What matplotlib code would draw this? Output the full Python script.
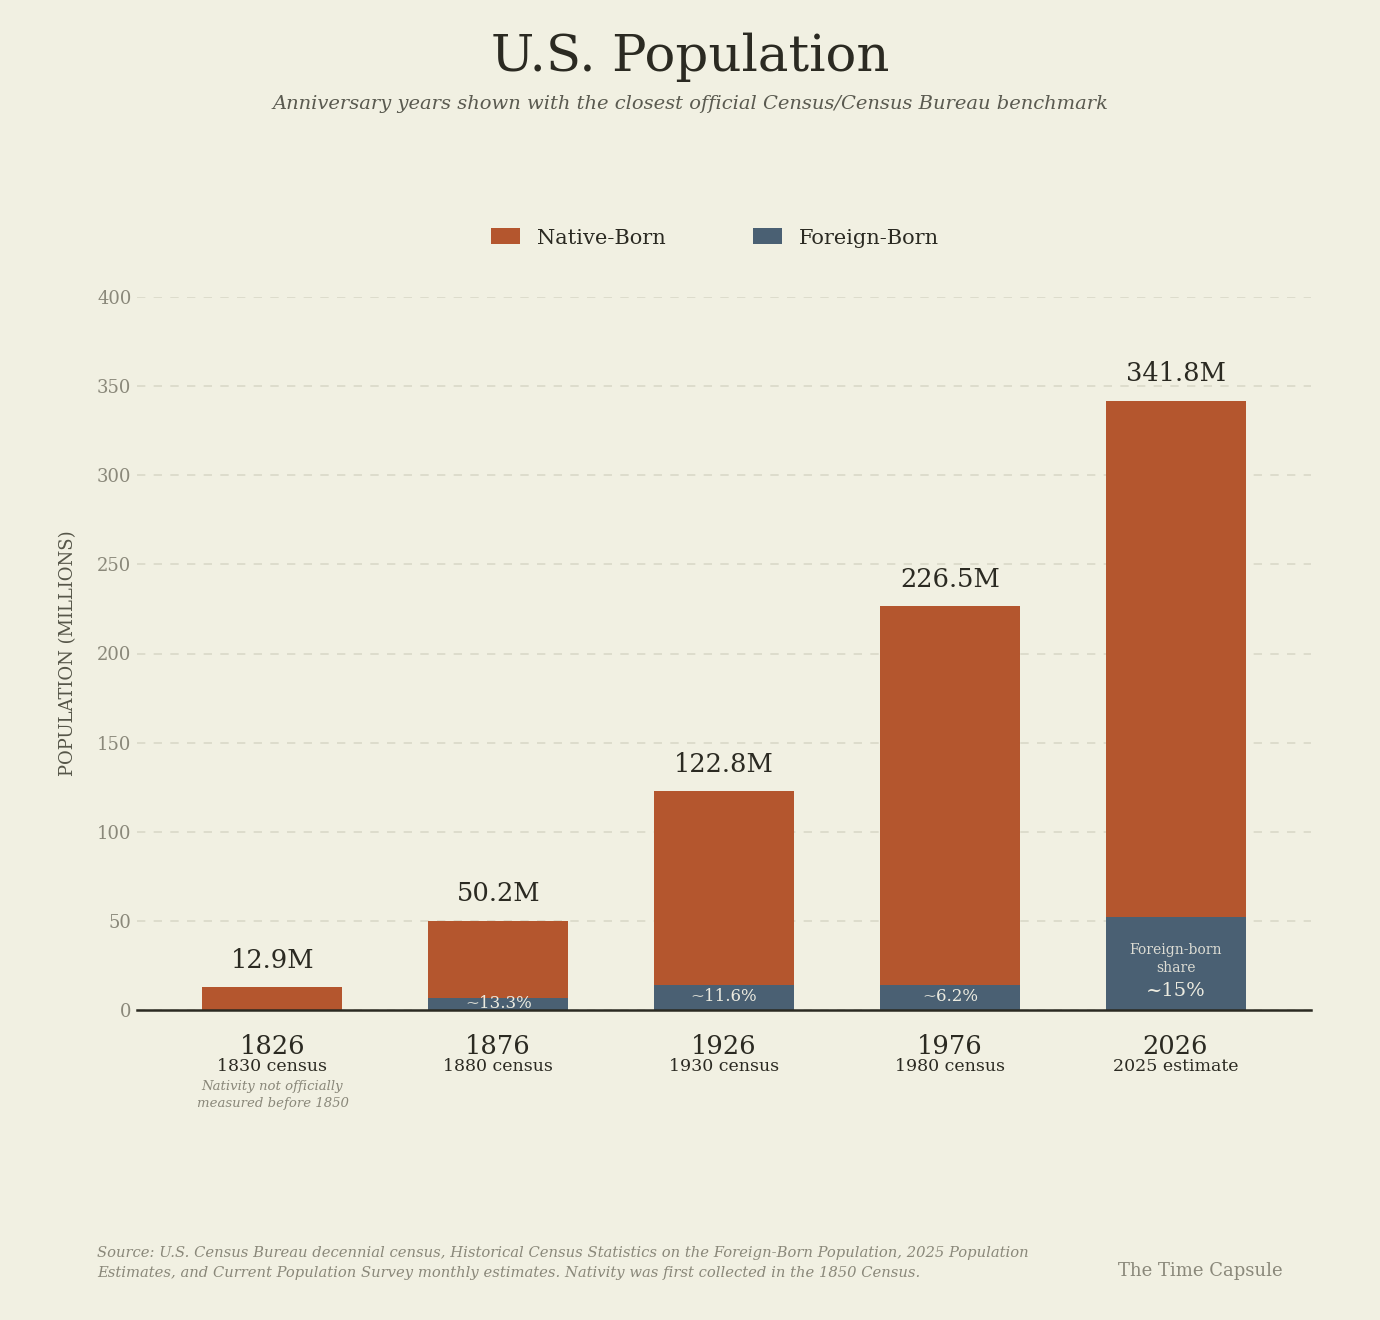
import numpy as np
import matplotlib
matplotlib.use('Agg')
import matplotlib.pyplot as plt
from matplotlib.patches import Patch

plt.rcParams['font.family'] = ['DejaVu Serif']

# data
years = ['1826', '1876', '1926', '1976', '2026']
sources = ['1830 census', '1880 census', '1930 census', '1980 census', '2025 estimate']
totals = [12.9, 50.2, 122.8, 226.5, 341.8]
foreign = [0.0, 6.7, 14.2, 14.0, 51.9]
shares = [None, '~13.3%', '~11.6%', '~6.2%', '~15%']
yticks = [0, 50, 100, 150, 200, 250, 300, 350, 400]

bg = '#F1F0E2'
c_native = '#B4562E'
c_foreign = '#4A6073'
dark = '#2B2A22'
grey = '#8A887A'

native = [t - f for t, f in zip(totals, foreign)]
x = np.arange(len(years))

fig = plt.figure(figsize=(13.8, 13.2), dpi=100, facecolor=bg)
ax = fig.add_axes([137/1380, 1 - 1010/1320, (1311-137)/1380, (1010-297)/1320])
ax.set_facecolor(bg)

w = 0.62
ax.bar(x, foreign, w, color=c_foreign, zorder=3)
ax.bar(x, native, w, bottom=foreign, color=c_native, zorder=3)

ax.set_xlim(-0.6, 4.6)
ax.set_ylim(0, 400)
ax.set_yticks(yticks)
ax.set_yticklabels([str(v) for v in yticks], color=grey, fontsize=13)
ax.tick_params(axis='y', length=0, pad=4)
ax.set_xticks([])
for s in ['top', 'right', 'left']:
    ax.spines[s].set_visible(False)
ax.spines['bottom'].set_color(dark)
ax.spines['bottom'].set_linewidth(1.8)
ax.spines['bottom'].set_zorder(4)
ax.grid(axis='y', color='#D9D8C8', linestyle=(0, (5, 5)), linewidth=1.2, zorder=0)
ax.set_ylabel('POPULATION (MILLIONS)', color='#555548', fontsize=13, labelpad=14)

# total labels
for i, t in enumerate(totals):
    ax.text(x[i], t + 8, '%.1fM' % t, ha='center', va='bottom', fontsize=18.5, color=dark)

# share labels inside the foreign-born segment
for i in range(1, 4):
    ax.text(x[i], foreign[i] / 2 + 0.5, shares[i], ha='center', va='center',
            fontsize=12, color='#ECEBE0', zorder=5)
ax.text(x[4], 28.5, 'Foreign-born\nshare', ha='center', va='center', fontsize=10,
        color='#DCDCD4', linespacing=1.35, zorder=5)
ax.text(x[4], 10.5, shares[4], ha='center', va='center', fontsize=14,
        color='#ECEBE0', zorder=5)

# year + source under each bar
for i in range(len(years)):
    ax.text(x[i], -20.5, years[i], ha='center', va='center', fontsize=18.5, color=dark)
    ax.text(x[i], -31.5, sources[i], ha='center', va='center', fontsize=12.5, color=dark)
ax.text(x[0], -47.5, 'Nativity not officially\nmeasured before 1850', ha='center', va='center',
        fontsize=9.5, style='italic', color=grey, linespacing=1.4)

fig.text(0.5, 1 - 57/1320, 'U.S. Population', ha='center', va='center', fontsize=37, color=dark)
fig.text(0.5, 1 - 104/1320, 'Anniversary years shown with the closest official Census/Census Bureau benchmark',
         ha='center', va='center', fontsize=14, style='italic', color='#5A5A50')

handles = [Patch(facecolor=c_native, label='Native-Born'),
           Patch(facecolor=c_foreign, label='Foreign-Born')]
fig.legend(handles=handles, loc='center', bbox_to_anchor=(715/1380, 1 - 238/1320), ncol=2,
           frameon=False, fontsize=15, handlelength=1.4, handleheight=0.8,
           columnspacing=4.2, handletextpad=0.8, labelcolor=dark)

fig.text(97/1380, 1 - 1263/1320,
         'Source: U.S. Census Bureau decennial census, Historical Census Statistics on the Foreign-Born Population, 2025 Population\n'
         'Estimates, and Current Population Survey monthly estimates. Nativity was first collected in the 1850 Census.',
         ha='left', va='center', fontsize=10.6, style='italic', color=grey, linespacing=1.5)
fig.text(1283/1380, 1 - 1271/1320, 'The Time Capsule', ha='right', va='center', fontsize=13, color=grey)

fig.savefig('out.png', dpi=100, facecolor=bg)
